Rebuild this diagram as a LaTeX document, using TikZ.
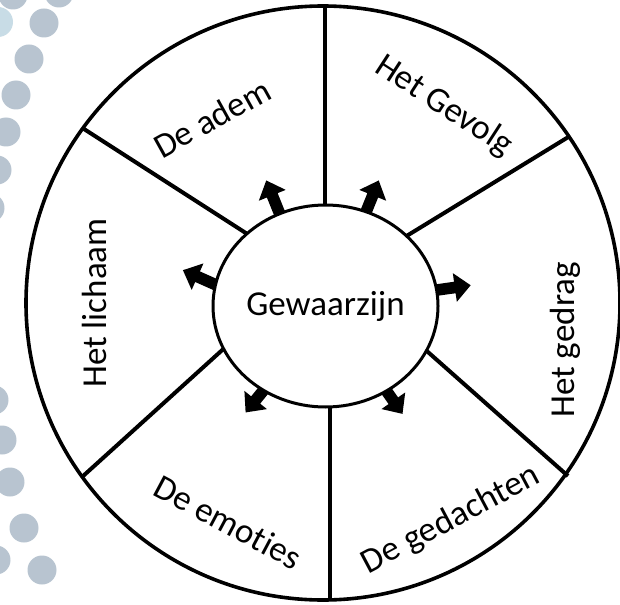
\documentclass[tikz,border=0pt]{standalone}
\usepackage{fontspec}
\setmainfont{Carlito}[Ligatures=NoCommon]
\usetikzlibrary{shapes.geometric}
\definecolor{dotgrey}{RGB}{184,196,208}
\definecolor{dotpale}{RGB}{200,220,230}
\begin{document}
\begin{tikzpicture}[x=1pt,y=-1pt,
  rimline/.style={line width=3.6pt},
  spoke/.style={line width=4pt},
  seglabel/.style={font=\fontsize{35}{38}\selectfont,inner sep=0pt},
  dot/.style={fill=dotgrey,draw=none},
  blockarrow/.pic={\fill (-2,-5.8) -- (18,-5.8) -- (18,-14.5) -- (34,0)
                         -- (18,14.5) -- (18,5.8) -- (-2,5.8) -- cycle;}]
\useasboundingbox (0,0) rectangle (620,604);
\clip (0,0) rectangle (620,604);
\fill[white] (0,0) rectangle (620,604);

% decorative dots along the left edge
\fill[dotpale] (-2,22) circle (15);
\foreach \px/\py in {13/-5, 59/-7, 44/23, 29/59, 16/95, 6/132, -3/170, -10/208,
                     -6/400, 2/440, 10/482, 24/528, 42/570, -4/560}
  \fill[dot] (\px,\py) circle (14.5);

% outer wheel and spokes
\node[draw,rimline,circle,minimum size=594pt,inner sep=0pt] (rim) at (323,303) {};
\coordinate (s1o) at (325,6);   \coordinate (s1i) at (325,215);
\coordinate (s2o) at (570,136); \coordinate (s2i) at (400,240);
\coordinate (s3o) at (568,476); \coordinate (s3i) at (420,345);
\coordinate (s4o) at (330,600); \coordinate (s4i) at (330,397);
\coordinate (s5o) at (82,477);  \coordinate (s5i) at (230,343);
\coordinate (s6o) at (84,129);  \coordinate (s6i) at (252,237);
\foreach \k in {1,...,6} \draw[spoke] (s\k i) -- (s\k o);

% outward arrows, placed at their tails on the centre's border
\foreach \ax/\ay/\ang in {279/212/112, 366/212/68, 437/290/8,
                          214/284/156, 267/386/231, 383/386/305}
  \pic[rotate=\ang] at (\ax,\ay) {blockarrow};

% centre
\node[draw,line width=3pt,ellipse,minimum width=225pt,minimum height=202pt,
      inner sep=0pt,fill=white,font=\fontsize{35}{38}\selectfont] (core) at (325.5,306) {Gewaarzijn};

% segment labels
\node[seglabel,rotate=29]  (l1) at (212,118) {De adem};
\node[seglabel,rotate=-33] (l2) at (444,106) {Het Gevolg};
\node[seglabel,rotate=90]  (l3) at (565,340) {Het gedrag};
\node[seglabel,rotate=28]  (l4) at (451,520) {De gedachten};
\node[seglabel,rotate=-28] (l5) at (228,522) {De emoties};
\node[seglabel,rotate=90]  (l6) at (94,303)  {Het lichaam};
\end{tikzpicture}
\end{document}
